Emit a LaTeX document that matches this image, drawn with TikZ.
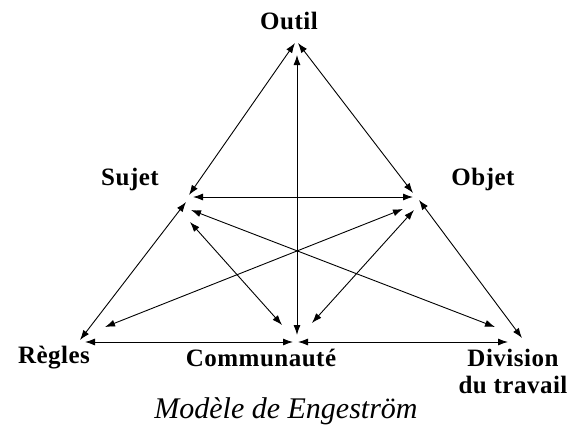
\documentclass[tikz,border=0pt]{standalone}
\usepackage{fontspec}
\setmainfont{Liberation Serif}
\usetikzlibrary{arrows.meta}
\tikzset{
  lbl/.style={font=\bfseries\fontsize{25}{27}\selectfont\addfontfeature{LetterSpace=2}, inner sep=0pt, align=center},
  captiontext/.style={font=\itshape\fontsize{30}{34}\selectfont, inner sep=0pt},
  link/.style={line width=0.9pt, {Latex[length=10pt,width=7pt]}-{Latex[length=10pt,width=7pt]}}
}
\begin{document}
\begin{tikzpicture}[x=1pt,y=-1pt]
\useasboundingbox (0,0) rectangle (574,434);
\fill[white] (0,0) rectangle (574,434);
% labels
\node[lbl] (outil) at (289,21) {Outil};
\node[lbl] (sujet) at (130,179) {Sujet};
\node[lbl] (objet) at (483,179) {Objet};
\node[lbl] (regles) at (54,358) {Règles};
\node[lbl] (comm) at (261,358) {Communauté};
\node[lbl] (div) at (513,371) {Division\\du travail};
\node[captiontext] (titre) at (286,411) {Modèle de Engeström};
% endpoints
\coordinate (OS1) at (295,43);  \coordinate (OS2) at (189,195);
\coordinate (OB1) at (298,43);  \coordinate (OB2) at (413,193);
\coordinate (OC1) at (297,55);  \coordinate (OC2) at (297,335);
\coordinate (SB1) at (193,197); \coordinate (SB2) at (413,197);
\coordinate (SR1) at (186,202); \coordinate (SR2) at (80,340);
\coordinate (SD1) at (191,210); \coordinate (SD2) at (495,327);
\coordinate (SC1) at (190,222); \coordinate (SC2) at (282,325);
\coordinate (BR1) at (403,209); \coordinate (BR2) at (105,327);
\coordinate (BC1) at (414,210); \coordinate (BC2) at (312,323);
\coordinate (BD1) at (419,200); \coordinate (BD2) at (522,338);
\coordinate (RC1) at (85,342);  \coordinate (RC2) at (293,342);
\coordinate (CD1) at (298,342); \coordinate (CD2) at (508,342);
% connectors
\draw[link] (OS1) -- (OS2);
\draw[link] (OB1) -- (OB2);
\draw[link] (OC1) -- (OC2);
\draw[link] (SB1) -- (SB2);
\draw[link] (SR1) -- (SR2);
\draw[link] (SD1) -- (SD2);
\draw[link] (SC1) -- (SC2);
\draw[link] (BR1) -- (BR2);
\draw[link] (BC1) -- (BC2);
\draw[link] (BD1) -- (BD2);
\draw[link] (RC1) -- (RC2);
\draw[link] (CD1) -- (CD2);
\end{tikzpicture}
\end{document}
